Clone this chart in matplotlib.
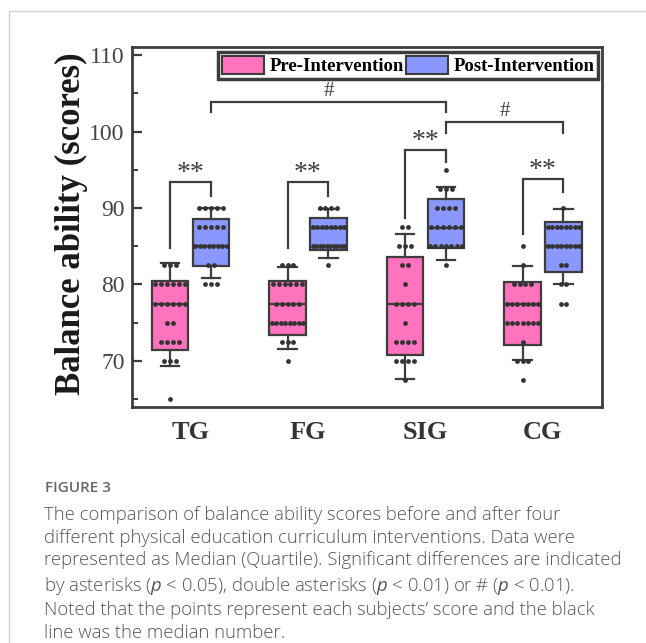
"""Figure 3 - balance ability scores, pre/post intervention box charts"""

import numpy as np
import matplotlib.pyplot as plt
from matplotlib.patches import Patch, Rectangle

GROUPS = ["TG", "FG", "SIG", "CG"]

# individual subject scores
TG_PRE = [65, 70, 70, 70, 72.5, 72.5, 72.5, 72.5, 75, 75,
          77.5, 77.5, 77.5, 77.5, 77.5, 77.5, 80, 80, 80, 80, 80, 80, 82.5, 82.5, 82.5]
TG_POST = [80, 80, 80, 82.5, 82.5, 85, 85, 85, 85, 85, 85, 85, 85,
           87.5, 87.5, 87.5, 87.5, 87.5, 90, 90, 90, 90, 90]
FG_PRE = [70, 72.5, 72.5, 72.5, 75, 75, 75, 75, 75, 75, 75, 75,
          77.5, 77.5, 77.5, 77.5, 77.5, 80, 80, 80, 80, 80, 80, 82.5, 82.5, 82.5]
FG_POST = [82.5, 85, 85, 85, 85, 85, 85, 85, 85, 85, 85,
           87.5, 87.5, 87.5, 87.5, 87.5, 87.5, 87.5, 87.5, 90, 90, 90, 90]
SIG_PRE = [67.5, 70, 70, 70, 70, 72.5, 72.5, 72.5, 72.5, 75, 77.5, 77.5, 77.5, 77.5,
           80, 82.5, 82.5, 85, 85, 85, 87.5, 87.5]
SIG_POST = [82.5, 85, 85, 85, 85, 85, 85, 85, 87.5, 87.5, 87.5, 87.5, 87.5, 87.5,
            90, 90, 90, 90, 92.5, 92.5, 92.5, 95]
CG_PRE = [67.5, 70, 70, 70, 72.5, 75, 75, 75, 75, 75, 75, 75,
          77.5, 77.5, 77.5, 77.5, 77.5, 77.5, 77.5, 80, 80, 80, 80, 82.5, 85]
CG_POST = [77.5, 77.5, 80, 80, 82.5, 82.5, 85, 85, 85, 85, 85, 85, 85, 85,
           87.5, 87.5, 87.5, 87.5, 87.5, 87.5, 87.5, 87.5, 90]

# box statistics (quartiles, median, whisker ends) as drawn
PRE_Q1 = [71.4, 73.4, 70.8, 72.1]
PRE_MED = [77.5, 77.5, 77.5, 77.5]
PRE_Q3 = [80.5, 80.5, 83.6, 80.3]
PRE_LO = [69.3, 71.6, 67.6, 70.1]
PRE_HI = [82.8, 82.3, 86.6, 82.4]
POST_Q1 = [82.4, 84.5, 84.8, 81.6]
POST_MED = [85.0, 87.4, 87.4, 85.0]
POST_Q3 = [88.5, 88.7, 91.2, 88.2]
POST_LO = [80.9, 83.5, 83.2, 80.0]
POST_HI = [90.0, 89.8, 92.7, 89.8]

CAPTION = [
    "The comparison of balance ability scores before and after four",
    "different physical education curriculum interventions. Data were",
    "represented as Median (Quartile). Significant differences are indicated",
    "by asterisks ($p$ < 0.05), double asterisks ($p$ < 0.01) or # ($p$ < 0.01).",
    "Noted that the points represent each subjects\u2019 score and the black",
    "line was the median number.",
]

PINK = "#ff72be"
BLUE = "#8a97ff"
EDGE = "#3d3d3d"
OFF = 0.174
WIDTH = 0.31

plt.rcParams["mathtext.fontset"] = "custom"
plt.rcParams["mathtext.it"] = "Open Sans:italic"
plt.rcParams["mathtext.rm"] = "Open Sans"


def box_stats(q1, med, q3, lo, hi):
    """Stats dicts for bxp"""
    return [dict(q1=a, med=b, q3=c, whislo=d, whishi=e, fliers=[])
            for a, b, c, d, e in zip(q1, med, q3, lo, hi)]


def spread(values, center):
    """Lay equal scores side by side"""
    xs, ys = [], []
    vals, counts = np.unique(values, return_counts=True)
    for v, n in zip(vals, counts):
        step = min(0.05, 0.27 / max(n - 1, 1))
        xs += list(center + (np.arange(n) - (n - 1) / 2) * step)
        ys += [v] * n
    return xs, ys


def bracket(ax, x1, x2, y1, y2, top, text, ty, size):
    ax.plot([x1, x1, x2, x2], [y1, top, top, y2], color=EDGE, lw=1.6,
            solid_joinstyle="miter", clip_on=False)
    ax.text((x1 + x2) / 2, ty, text, ha="center", va="center", fontsize=size,
            color=EDGE, family="Liberation Serif")


fig = plt.figure(figsize=(6.46, 6.43), dpi=100)
ax = fig.add_axes([0.2039, 0.3675, 0.7276, 0.5599])
x = np.arange(1, len(GROUPS) + 1)

line = dict(color=EDGE, linewidth=1.6)
for stats, pos, color in [
    (box_stats(PRE_Q1, PRE_MED, PRE_Q3, PRE_LO, PRE_HI), x - OFF, PINK),
    (box_stats(POST_Q1, POST_MED, POST_Q3, POST_LO, POST_HI), x + OFF, BLUE),
]:
    ax.bxp(stats, positions=pos, widths=WIDTH, capwidths=0.16, patch_artist=True,
           showfliers=False, manage_ticks=False,
           boxprops=dict(facecolor=color, edgecolor=EDGE, linewidth=1.6),
           medianprops=line, whiskerprops=line, capprops=line)

pre_all = [TG_PRE, FG_PRE, SIG_PRE, CG_PRE]
post_all = [TG_POST, FG_POST, SIG_POST, CG_POST]
for i in range(len(GROUPS)):
    for vals, c in [(pre_all[i], x[i] - OFF), (post_all[i], x[i] + OFF)]:
        xs, ys = spread(vals, c)
        ax.scatter(xs, ys, s=12, color="#333333", zorder=5, linewidths=0)

# significance marks
star_left = [84.8, 84.7, 88.7, 86.6]
star_top = [93.4, 93.4, 97.6, 93.8]
star_right = [91.5, 91.6, 96.0, 92.1]
for i in range(len(GROUPS)):
    bracket(ax, x[i] - OFF, x[i] + OFF, star_left[i], star_right[i], star_top[i],
            "**", star_top[i] + 1.05, 20)
bracket(ax, 1 + OFF, 3 + OFF, 102.5, 102.5, 103.9, "#", 105.2, 15)
bracket(ax, 3 + OFF, 4 + OFF, 99.8, 99.8, 101.2, "#", 102.6, 15)

ax.set_xlim(0.5, 4.5)
ax.set_ylim(64, 111.1)
ax.set_xticks(x)
ax.set_xticklabels(GROUPS, family="Liberation Serif", fontweight="bold",
                   fontsize=19, color="#333333")
ax.set_yticks([70, 80, 90, 100, 110])
ax.set_yticks([65, 75, 85, 95, 105], minor=True)
ax.set_yticklabels(["70", "80", "90", "100", "110"], family="Liberation Serif",
                   fontsize=17, color="#444444")
ax.tick_params(axis="x", length=0, pad=10)
ax.tick_params(axis="y", which="major", direction="in", length=7, width=1.6,
               color=EDGE, pad=5)
ax.tick_params(axis="y", which="minor", direction="in", length=4, width=1.4,
               color=EDGE)
for sp in ax.spines.values():
    sp.set_linewidth(2)
    sp.set_color(EDGE)

ax.set_ylabel("Balance ability (scores)", family="Liberation Serif",
              fontweight="bold", fontsize=25, color="#1a1a1a")
ax.yaxis.set_label_coords(-0.092, 0.509)

handles = [Patch(facecolor=PINK, edgecolor=EDGE, lw=1.5),
           Patch(facecolor=BLUE, edgecolor=EDGE, lw=1.5)]
leg = ax.legend(handles, ["Pre-Intervention", "Post-Intervention"], ncol=2,
                loc="upper right", bbox_to_anchor=(0.993, 0.984), borderaxespad=0,
                prop=dict(family="Liberation Serif", weight="bold", size=13.5),
                fancybox=False, edgecolor=EDGE, framealpha=1, handlelength=2.25,
                handleheight=1.05, handletextpad=0.3, columnspacing=0.1,
                borderpad=0.2)
leg.get_frame().set_linewidth(2.5)

# caption
fig.text(45 / 646, 1 - 488 / 643, "FIGURE 3", fontsize=11, color="#666666",
         family="Open Sans", fontweight="semibold", va="center")
fig.text(44 / 646, 1 - 506 / 643, "\n".join(CAPTION), fontsize=13.3, color="#555555",
         family="Open Sans", fontweight="light", va="top", linespacing=1.33)

fig.patches.append(Rectangle((9 / 646, -0.2), 1.2, 1.2 - 11 / 643,
                             transform=fig.transFigure, fill=False,
                             edgecolor="#cfcfcf", lw=1))

fig.savefig("out.png", dpi=100)
